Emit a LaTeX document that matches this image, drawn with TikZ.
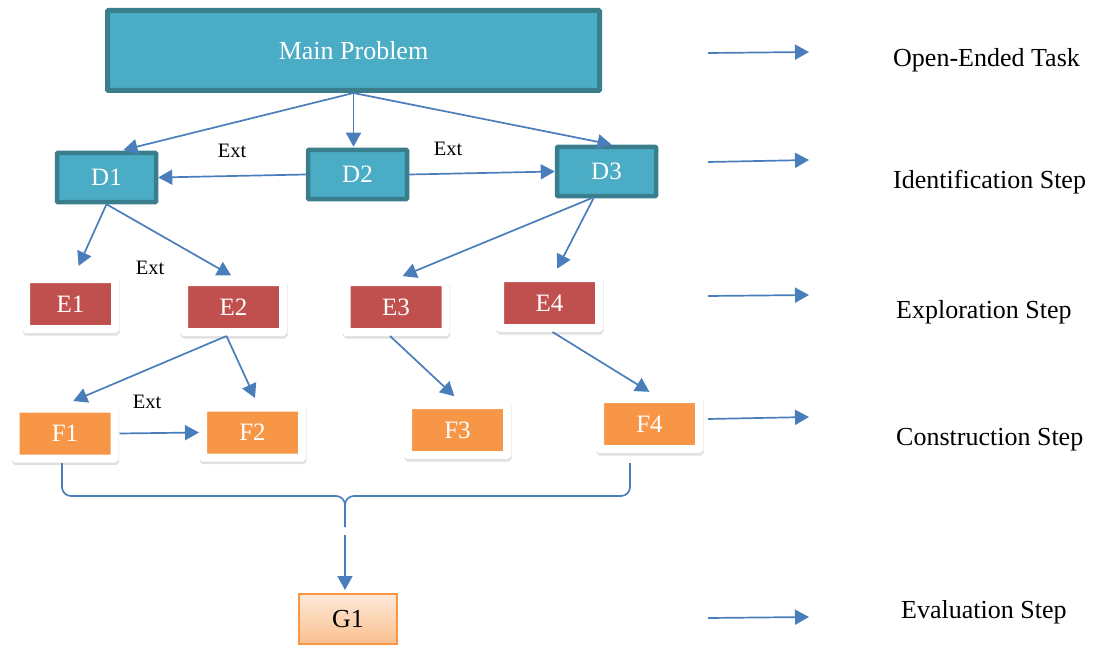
\documentclass[tikz,border=0pt]{standalone}
\usepackage{fontspec}
\setmainfont{Liberation Serif}
\usetikzlibrary{arrows.meta,calc}
\definecolor{mpFill}{HTML}{4BACC6}
\definecolor{mpEdge}{HTML}{3A7E8E}
\definecolor{exRed}{HTML}{C0504D}
\definecolor{cnOrange}{HTML}{F79646}
\definecolor{evTop}{HTML}{FDE9D9}
\definecolor{evBot}{HTML}{FAC08F}
\definecolor{flowBlue}{HTML}{4A7EBB}

\tikzset{
  idbox/.style={draw=mpEdge, fill=mpFill, line width=4.5pt, rounded corners=0.8pt,
    text=white, font=\fontsize{25}{30}\selectfont, inner sep=0,
    minimum width=99pt, minimum height=49pt},
  card/.style={draw=white, line width=8pt, rounded corners=0.5pt, text=white,
    font=\fontsize{25}{30}\selectfont, inner sep=0,
    minimum width=99pt, minimum height=50pt,
    preaction={draw=black!12, fill=black!12, line width=8pt,
      transform canvas={xshift=0.6pt, yshift=-2.6pt}}},
  excard/.style={card, fill=exRed},
  cncard/.style={card, fill=cnOrange},
  flow/.style={-{Triangle[length=14pt,width=15pt]}, flowBlue, line width=1.7pt},
  brace line/.style={flowBlue, line width=1.7pt, rounded corners=9pt},
  extlbl/.style={font=\fontsize{20.5}{24}\selectfont, inner sep=0},
  steplbl/.style={anchor=base west, font=\fontsize{26}{31}\selectfont, inner sep=0},
}

\begin{document}
\begin{tikzpicture}[x=1pt, y=-1pt]

\useasboundingbox (0,0) rectangle (1095,650);

% --- main problem ---
\node[idbox, line width=5pt, minimum width=492pt, minimum height=80pt,
      font=\fontsize{26}{31}\selectfont] (main) at (353.5,50.5) {Main Problem};

% --- identification ---
\node[idbox] (d1) at (106.5,177.5) {D1};
\node[idbox] (d2) at (357.5,174.5) {D2};
\node[idbox] (d3) at (606.5,171.5) {D3};

% --- exploration ---
\node[excard, minimum width=89pt] (e1) at (70.5,304) {E1};
\node[excard] (e2) at (233.5,307) {E2};
\node[excard] (e3) at (396,307)   {E3};
\node[excard] (e4) at (549.5,303) {E4};

% --- construction ---
\node[cncard] (f1) at (65,433.5)  {F1};
\node[cncard] (f2) at (252.5,432.5) {F2};
\node[cncard] (f3) at (457.5,430) {F3};
\node[cncard] (f4) at (649.5,424) {F4};

% --- evaluation ---
\node[draw=cnOrange, line width=2pt, top color=evTop, bottom color=evBot,
      minimum width=98pt, minimum height=50pt, inner sep=0,
      font=\fontsize{26}{31}\selectfont] (g1) at (348,619) {G1};

% --- ext labels ---
\node[extlbl] (ext1) at (232,151) {Ext};
\node[extlbl] (ext2) at (448,149) {Ext};
\node[extlbl] (ext3) at (150,268) {Ext};
\node[extlbl] (ext4) at (147,402) {Ext};

% --- connectors ---
\draw[flow, shorten >=3pt] (main.south) -- ([xshift=14pt]d1.north);
\draw[flow, shorten >=1pt] (main.south) -- (main.south |- d2.north);
\draw[flow, shorten >=1pt] (main.south) -- ([xshift=6pt]d3.north);
\draw[flow] (d2.west) -- (d1.east);
\draw[flow] (d2.east) -- (d3.west);

\draw[flow, shorten >=10pt] (d1.south) -- ([xshift=4pt]e1.north);
\draw[flow, shorten >=5pt]  (d1.south) -- ([xshift=2pt]e2.north);
\draw[flow, shorten >=5pt]  ([xshift=-15pt]d3.south) -- ([xshift=2pt]e3.north);
\draw[flow, shorten >=6pt]  ([xshift=-13pt]d3.south) -- ([xshift=5pt]e4.north);

\draw[flow, shorten >=9pt] ([xshift=-7pt]e2.south) -- (f1.north);
\draw[flow, shorten >=6pt] ([xshift=-7pt]e2.south) -- ([xshift=5pt]f2.north);
\draw[flow, shorten >=7pt] ([xshift=-6pt]e3.south) -- ([xshift=2pt]f3.north);
\draw[flow, shorten >=6pt] ([xshift=3pt]e4.south) -- ([xshift=5pt]f4.north);
\draw[flow, shorten <=1pt] (f1.east) -- (f2.west);

% --- brace into G1 ---
\coordinate (brL) at (62,463);
\coordinate (brR) at (630,463);
\coordinate (brMid) at (345,496);
\coordinate (brTip) at (345,527);
\coordinate (gIn) at (345,535);
\draw[brace line] (brL) |- (brMid) -- (brTip);
\draw[brace line] (brR) |- (brMid) -- (brTip);
\draw[flow, shorten >=3pt] (gIn) -- (gIn |- g1.north);

% --- step column ---
\foreach \i/\ya/\yb/\xl/\yl/\txt in {
    1/53/52/893/66.5/Open-Ended Task,
    2/162/160/893/188.5/Identification Step,
    3/296/295/896/318.5/Exploration Step,
    4/419/417/896/445.5/Construction Step,
    5/618/617/901/618.5/Evaluation Step} {
  \coordinate (st\i a) at (708,\ya);
  \coordinate (st\i b) at (809,\yb);
  \draw[flow] (st\i a) -- (st\i b);
  \node[steplbl] (st\i) at (\xl,\yl) {\txt};
}

\end{tikzpicture}
\end{document}
